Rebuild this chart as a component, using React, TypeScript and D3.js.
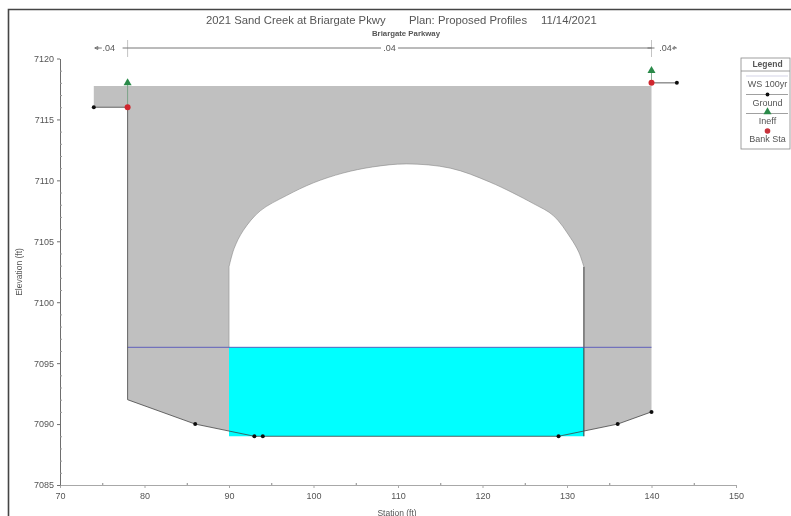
import React, { useEffect, useRef } from 'react'
import * as d3 from 'd3'

const WIDTH = 791
const HEIGHT = 516

// ground profile
const groundStations = [74, 78, 78, 86, 93, 94, 129, 136, 140, 140, 143]
const groundElevations = [7116, 7116, 7092, 7090, 7089, 7089, 7089, 7090, 7091, 7118, 7118]
const groundMarkers = [0, 3, 4, 5, 6, 7, 8, 10]

// bridge deck and arch opening
const deckTop = 7117.75
const archStations = [90, 90.6, 91.7, 93.7, 96.8, 100, 103.5, 107, 111, 116.2, 120.9, 126, 128.4, 130.4, 131.4, 132]
const archElevations = [7102.9, 7104.4, 7105.9, 7107.5, 7108.75, 7109.8, 7110.6, 7111.1, 7111.35, 7111, 7109.85, 7108.1, 7107.1, 7105.3, 7104.1, 7102.9]
const openingLeft = 90
const openingRight = 132
const openingFloor = 7089

const wsElevation = 7096.3
const wsStations = [78, 140]

const ineffStations = [78, 140]
const ineffElevations = [7118, 7119]
const bankStations = [78, 140]
const bankElevations = [7116, 7118]

const xMajor = [70, 80, 90, 100, 110, 120, 130, 140, 150]
const xMinor = [75, 85, 95, 105, 115, 125, 135, 145]
const yMajor = [7085, 7090, 7095, 7100, 7105, 7110, 7115, 7120]
const yMinor = d3.range(7085, 7120).filter((v) => v % 5 !== 0)

const titleParts = ['2021 Sand Creek at Briargate Pkwy', 'Plan: Proposed Profiles', '11/14/2021']
const subtitle = 'Briargate Parkway'
const manningN = '.04'

const FONT = 'Liberation Sans, Arial, sans-serif'
const TEXT = '#555'

const x = d3.scaleLinear().domain([70, 150]).range([60, 736])
const y = d3.scaleLinear().domain([7085, 7120]).range([485, 58.5])

const line = d3.line<[number, number]>().x((d) => x(d[0])).y((d) => y(d[1]))
const smoothLine = d3.line<[number, number]>().x((d) => x(d[0])).y((d) => y(d[1])).curve(d3.curveCatmullRom)
const zip = (a: number[], b: number[]) => a.map((v, i) => [v, b[i]] as [number, number])

const triangle = d3.symbol().type(d3.symbolTriangle).size(28)

function Axes() {
  const ref = useRef<SVGGElement>(null)
  useEffect(() => {
    const g = d3.select(ref.current)
    g.selectAll('*').remove()

    const bottom = g.append('g').attr('transform', `translate(0,${y(7085)})`)
      .call(d3.axisBottom(x).tickValues(xMajor).tickSize(3).tickSizeOuter(0).tickPadding(5).tickFormat(d3.format('d')))
    bottom.selectAll('path,line').attr('stroke', '#a8a8a8')

    const bottomMinor = g.append('g').attr('transform', `translate(0,${y(7085)})`)
      .call(d3.axisTop(x).tickValues(xMinor).tickSize(2).tickSizeOuter(0).tickFormat(() => ''))
    bottomMinor.select('path').remove()
    bottomMinor.selectAll('line').attr('stroke', '#888')

    const left = g.append('g').attr('transform', `translate(${x(70)},0)`)
      .call(d3.axisLeft(y).tickValues(yMajor).tickSize(3).tickSizeOuter(0).tickPadding(3).tickFormat(d3.format('d')))
    left.selectAll('path,line').attr('stroke', '#6e6e6e')

    const leftMinor = g.append('g').attr('transform', `translate(${x(70)},0)`)
      .call(d3.axisRight(y).tickValues(yMinor).tickSize(2).tickSizeOuter(0).tickFormat(() => ''))
    leftMinor.select('path').remove()
    leftMinor.selectAll('line').attr('stroke', '#999')

    g.selectAll('text').attr('font-family', FONT).attr('font-size', 9).attr('fill', TEXT)
  }, [])
  return <g ref={ref} />
}

function ManningRow() {
  const rowY = 48
  const tick = (s: number) => (
    <line x1={x(s)} x2={x(s)} y1={rowY - 8} y2={rowY + 9} stroke="#aaa" strokeWidth={0.7} />
  )
  const mid = 389.5
  const labelProps = { fontFamily: FONT, fontSize: 9, fill: TEXT, textAnchor: 'middle' as const, y: rowY + 3 }
  return (
    <g stroke="#666" strokeWidth={0.9} fill="none">
      {tick(78)}
      {tick(140)}
      <path d={`M${x(74) + 1},${rowY}h7M${x(74) + 1},${rowY}l3,-1.5v3z`} />
      <path d={`M${x(78) - 5},${rowY}h5`} />
      <line x1={x(78)} x2={mid - 8.5} y1={rowY} y2={rowY} />
      <line x1={mid + 8.5} x2={x(140)} y1={rowY} y2={rowY} />
      <path d={`M${x(140) - 4},${rowY}h7M${x(140) + 21},${rowY}h4l-2.5,-1.5v3z`} />
      <g stroke="none">
        <text {...labelProps} x={x(76) - 2}>{manningN}</text>
        <text {...labelProps} x={mid}>{manningN}</text>
        <text {...labelProps} x={x(140) + 14}>{manningN}</text>
      </g>
    </g>
  )
}

function Legend() {
  const left = 741
  const right = 790
  const cx = (left + right) / 2 + 2
  const label = (text: string, ty: number) => (
    <text x={cx} y={ty} fontFamily={FONT} fontSize={9} fill={TEXT} textAnchor="middle">{text}</text>
  )
  return (
    <g>
      <rect x={left} y={58} width={right - left} height={91} fill="#fff" stroke="#888" strokeWidth={0.8} />
      <line x1={left} x2={right} y1={71} y2={71} stroke="#888" strokeWidth={0.8} />
      <text x={cx} y={66.5} fontFamily={FONT} fontSize={8.5} fontWeight="bold" fill={TEXT} textAnchor="middle">Legend</text>
      <line x1={left + 5} x2={right - 2} y1={76} y2={76} stroke="#c8c8e0" strokeWidth={0.8} />
      {label('WS 100yr', 87)}
      <line x1={left + 5} x2={right - 2} y1={94.5} y2={94.5} stroke="#777" strokeWidth={0.7} />
      <circle cx={cx} cy={94.5} r={1.9} fill="#111" />
      {label('Ground', 106)}
      <line x1={left + 5} x2={right - 2} y1={113.5} y2={113.5} stroke="#777" strokeWidth={0.7} />
      <path d={triangle()!} transform={`translate(${cx},112)`} fill="#2a8a4a" />
      {label('Ineff', 124)}
      <circle cx={cx} cy={131} r={2.8} fill="#c8303a" />
      {label('Bank Sta', 142)}
    </g>
  )
}

export default function App() {
  const ground = zip(groundStations, groundElevations)
  const arch = zip(archStations, archElevations)

  // grey deck from the top of the road down to the ground, left of station 140
  const deck: [number, number][] = [
    [74, deckTop],
    [140, deckTop],
    ...ground.slice(2, 9).reverse(),
    [78, 7116],
    [74, 7116],
  ]
  const archPath = smoothLine(arch)!
  const openingPath = `${archPath}L${x(openingRight)},${y(wsElevation)}L${x(openingLeft)},${y(wsElevation)}Z`

  return (
    <svg width={WIDTH} height={HEIGHT} style={{ position: 'absolute', left: 0, top: 0, background: '#fff' }}>
      <defs>
        <filter id="soft" x="0" y="0" width="100%" height="100%">
          <feGaussianBlur stdDeviation="0.5" />
        </filter>
      </defs>
      <g filter="url(#soft)">
        <rect width={WIDTH} height={HEIGHT} fill="#fff" />
        <path d={`M8.5,${HEIGHT}V9.5H${WIDTH}`} fill="none" stroke="#444" strokeWidth={1.6} />

        <g fontFamily={FONT} fontSize={11.3} fill={TEXT}>
          <text x={206} y={24}>{titleParts[0]}</text>
          <text x={409} y={24}>{titleParts[1]}</text>
          <text x={541} y={24}>{titleParts[2]}</text>
        </g>
        <text x={406} y={36} fontFamily={FONT} fontSize={7.8} fontWeight="bold" fill={TEXT} textAnchor="middle">{subtitle}</text>

        <ManningRow />

        <path d={line(deck) + 'Z'} fill="#c0c0c0" />
        <path d={openingPath} fill="#fff" />
        <rect
          x={x(openingLeft)}
          y={y(wsElevation)}
          width={x(openingRight) - x(openingLeft)}
          height={y(openingFloor) - y(wsElevation)}
          fill="#00ffff"
        />
        <path d={archPath} fill="none" stroke="#888" strokeWidth={0.6} />
        <line x1={x(openingLeft)} x2={x(openingLeft)} y1={y(archElevations[0])} y2={y(wsElevation)} stroke="#999" strokeWidth={0.7} />
        <line x1={x(openingRight)} x2={x(openingRight)} y1={y(archElevations[0])} y2={y(openingFloor)} stroke="#333" strokeWidth={1} />

        <line x1={x(wsStations[0])} x2={x(wsStations[1])} y1={y(wsElevation)} y2={y(wsElevation)} stroke="#5555bb" strokeWidth={0.9} />
        <path d={line(ground.slice(0, 9))!} fill="none" stroke="#444" strokeWidth={0.8} />
        <path d={line(ground.slice(9))!} fill="none" stroke="#333" strokeWidth={0.8} />
        {ineffStations.map((s, i) => (
          <line key={s} x1={x(s)} x2={x(s)} y1={y(ineffElevations[i])} y2={y(bankElevations[i])} stroke="#6a9a7a" strokeWidth={0.8} />
        ))}
        {groundMarkers.map((i) => (
          <circle key={i} cx={x(groundStations[i])} cy={y(groundElevations[i])} r={2} fill="#111" />
        ))}
        {ineffStations.map((s, i) => (
          <path key={s} d={triangle()!} transform={`translate(${x(s)},${y(ineffElevations[i])})`} fill="#2a8a4a" />
        ))}
        {bankStations.map((s, i) => (
          <circle key={s} cx={x(s)} cy={y(bankElevations[i])} r={3} fill="#d0282e" />
        ))}

        <Axes />
        <text x={397} y={515.5} fontFamily={FONT} fontSize={8.5} fill={TEXT} textAnchor="middle">Station (ft)</text>
        <text transform="translate(22,272) rotate(-90)" fontFamily={FONT} fontSize={8.5} fill={TEXT} textAnchor="middle">Elevation (ft)</text>
        <Legend />
      </g>
    </svg>
  )
}
